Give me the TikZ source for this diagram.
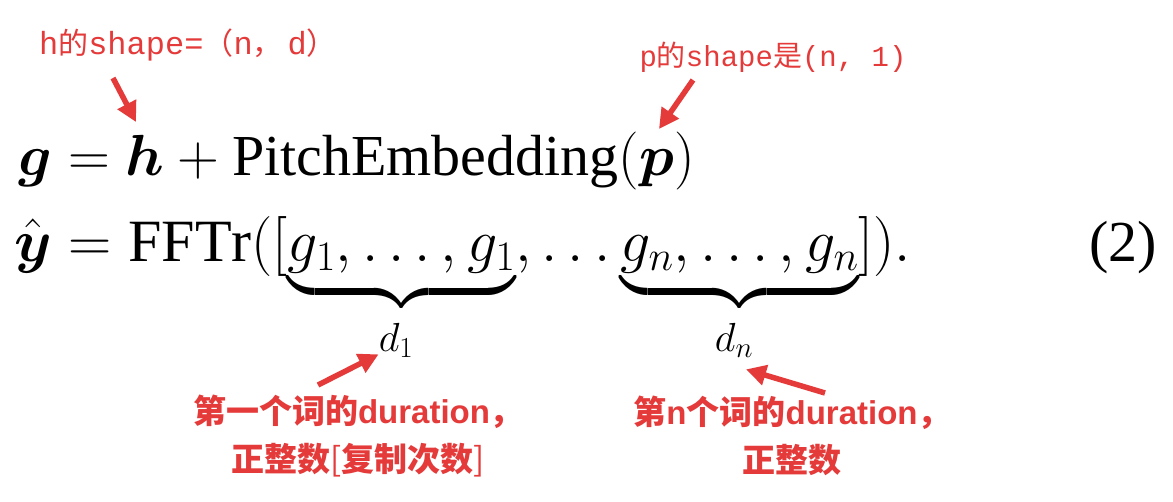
\documentclass[tikz,border=0pt]{standalone}
\usepackage{fix-cm}
\usepackage{amsmath}
\usepackage{amssymb}
\usepackage{xcolor}
\usepackage{fontspec}
\setmainfont{Liberation Serif}
\setsansfont{Liberation Sans}
\setmonofont{Liberation Mono}
\newfontfamily\cjk{Noto Sans CJK SC}
\usetikzlibrary{arrows.meta, positioning, calc}

\definecolor{annored}{RGB}{228,58,58}
\newcommand{\lat}[1]{{\ttfamily #1}}
\newcommand{\latsans}[1]{{\sffamily #1}}
\newcommand{\lowbrace}{\rule[-24pt]{0pt}{1pt}}

\tikzset{
  eq/.style={font=\fontsize{58}{70}\selectfont, inner sep=0pt},
  note/.style={text=annored, font=\cjk\fontsize{29}{34}\selectfont, align=center, inner sep=0pt},
  bignote/.style={note, font=\cjk\bfseries\fontsize{33}{48}\selectfont},
  pointer/.style={draw=annored, line width=5.5pt, -{Triangle[length=20pt,width=20pt]}},
}

\begin{document}
\begin{tikzpicture}[x=1pt, y=-1pt]

  % canvas
  \useasboundingbox (0,0) rectangle (1173,501);

  % --- equations ---
  \node[eq, anchor=base west] (line1) at (18,175)
    {$\boldsymbol{g} = \boldsymbol{h} + \mathrm{PitchEmbedding}(\boldsymbol{p})$};
  \node[eq, font=\fontsize{60}{72}\selectfont, anchor=base west] (line2) at (14,261)
    {$\hat{\boldsymbol{y}} = \mathrm{FFTr}([\underbrace{\lowbrace g_1, \dots, g_1}, \dots \underbrace{\lowbrace g_n, \dots, g_n}]).$};
  \node[eq, anchor=base east] (eqnum) at (1157,261) {(2)};

  % durations under the braces
  \node[eq] (d1) at (396,340) {$\scriptstyle d_1$};
  \node[eq] (dn) at (734,340) {$\scriptstyle d_n$};

  % --- annotations ---
  \node[note, font=\cjk\fontsize{30}{34}\selectfont] (hnote) at (188,45)
    {\lat{\fontsize{32}{34}\selectfont h}的\lat{\fontsize{32}{34}\selectfont shape=}（\lat{\fontsize{32}{34}\selectfont n}，\,\lat{\fontsize{32}{34}\selectfont d}）};
  \node[note] (pnote) at (773,57)
    {\lat{p}的\lat{shape}是\lat{(n, 1)}};
  \node[bignote] (d1note) at (358,436)
    {第一个词的\latsans{duration}，\\ 正整数{\mdseries[}复制次数{\mdseries]}};
  \node[bignote] (dnnote) at (792,436)
    {第\latsans{n}个词的\latsans{duration}，\\ 正整数};

  % arrow ends
  \coordinate (htail) at (113,78);
  \coordinate (htip) at (136,122);
  \coordinate (ptail) at (693,80);
  \coordinate (ptip) at (659,129);
  \coordinate (d1tail) at (318,385);
  \coordinate (dntail) at (825,393);

  \draw[pointer] (htail) -- (htip);
  \draw[pointer] (ptail) -- (ptip);
  \draw[pointer] (d1tail) -- ($(d1.south west)+(0,-3)$);
  \draw[pointer] (dntail) -- ($(dn.south)+(12,12)$);

\end{tikzpicture}
\end{document}
